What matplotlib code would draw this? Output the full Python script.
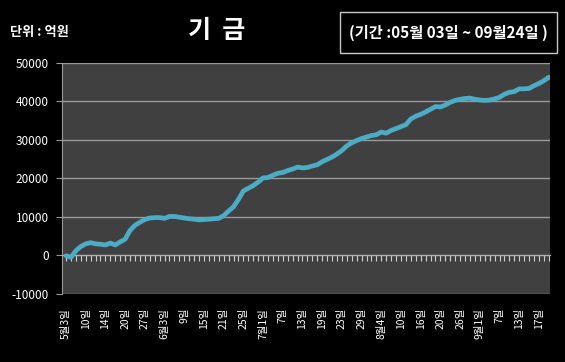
import matplotlib
matplotlib.use("Agg")
import matplotlib.pyplot as plt
from matplotlib.patches import Rectangle

plt.rcParams['font.family'] = ['Noto Sans CJK KR', 'DejaVu Sans']

# 기금 누적 (억원), 거래일 기준 5/3 ~ 9/24
fund = [-100, -500, 1200, 2300, 3000, 3300, 3000, 2900, 2700, 3200,
        2700, 3500, 4200, 6500, 7800, 8600, 9300, 9700, 9800, 9800,
        9600, 10100, 10100, 9900, 9700, 9500, 9400, 9200, 9300, 9400,
        9500, 9600, 10300, 11500, 12600, 14500, 16700, 17400, 18100, 19000,
        20100, 20200, 20800, 21300, 21500, 22000, 22400, 22900, 22700, 22800,
        23200, 23500, 24300, 24900, 25500, 26300, 27200, 28400, 29200, 29800,
        30300, 30700, 31100, 31300, 32000, 31700, 32400, 32900, 33400, 33900,
        35400, 36100, 36600, 37200, 37900, 38600, 38500, 39000, 39700, 40200,
        40500, 40700, 40800, 40500, 40300, 40200, 40300, 40600, 41000, 41800,
        42300, 42500, 43200, 43200, 43300, 44000, 44600, 45300, 46200]

tick_labels = ['5월3일', '10일', '14일', '20일', '27일', '6월3일', '9일', '15일',
               '21일', '25일', '7월1일', '7일', '13일', '19일', '23일', '29일',
               '8월4일', '10일', '16일', '20일', '26일', '9월1일', '7일', '13일', '17일']
label_step = 4

y_ticks = [-10000, 0, 10000, 20000, 30000, 40000, 50000]

fig = plt.figure(figsize=(5.65, 3.62), dpi=100, facecolor='black')
ax = fig.add_axes([0.109, 0.188, 0.864, 0.639])
ax.set_facecolor('#404040')

x = list(range(len(fund)))
ax.plot(x, fund, color='#4bacc6', linewidth=3.4, solid_capstyle='round', zorder=3)

ax.set_ylim(-10000, 50000)
ax.set_xlim(-0.9, len(fund) - 0.8)
ax.set_yticks(y_ticks)
ax.set_yticklabels([str(v) for v in y_ticks], color='white', fontsize=8.5)
ax.yaxis.grid(True, color='#9a9a9a', linewidth=1)
ax.set_axisbelow(True)
ax.tick_params(axis='y', length=4, color='#9a9a9a', pad=5)

for s in ['top', 'right']:
    ax.spines[s].set_visible(False)
ax.spines['left'].set_color('#9a9a9a')
ax.spines['bottom'].set_position(('data', 0))
ax.spines['bottom'].set_color('#b0b0b0')
ax.set_xticks(x)
ax.tick_params(axis='x', length=4, color='#d0d0d0', direction='out', labelbottom=False)

sec = ax.secondary_xaxis('bottom')
sec.set_xticks(list(range(0, len(fund), label_step)))
sec.set_xticklabels(tick_labels, rotation=90, color='white', fontsize=7.5, va='top')
sec.tick_params(length=0, pad=10)
sec.spines['bottom'].set_visible(False)

fig.text(0.384, 0.915, '기  금', color='white', fontsize=18, fontweight='bold',
         ha='center', va='center')
fig.text(0.018, 0.912, '단위 : 억원', color='white', fontsize=9.5, fontweight='bold',
         ha='left', va='center')
fig.patches.append(Rectangle((0.602, 0.853), 0.384, 0.113, transform=fig.transFigure,
                             fill=False, edgecolor='#c8c8c8', linewidth=1))
fig.text(0.794, 0.91, '(기간 :05월 03일 ~ 09월24일 )', color='white', fontsize=11,
         fontweight='bold', ha='center', va='center')

fig.savefig('out.png', dpi=100, facecolor='black')
